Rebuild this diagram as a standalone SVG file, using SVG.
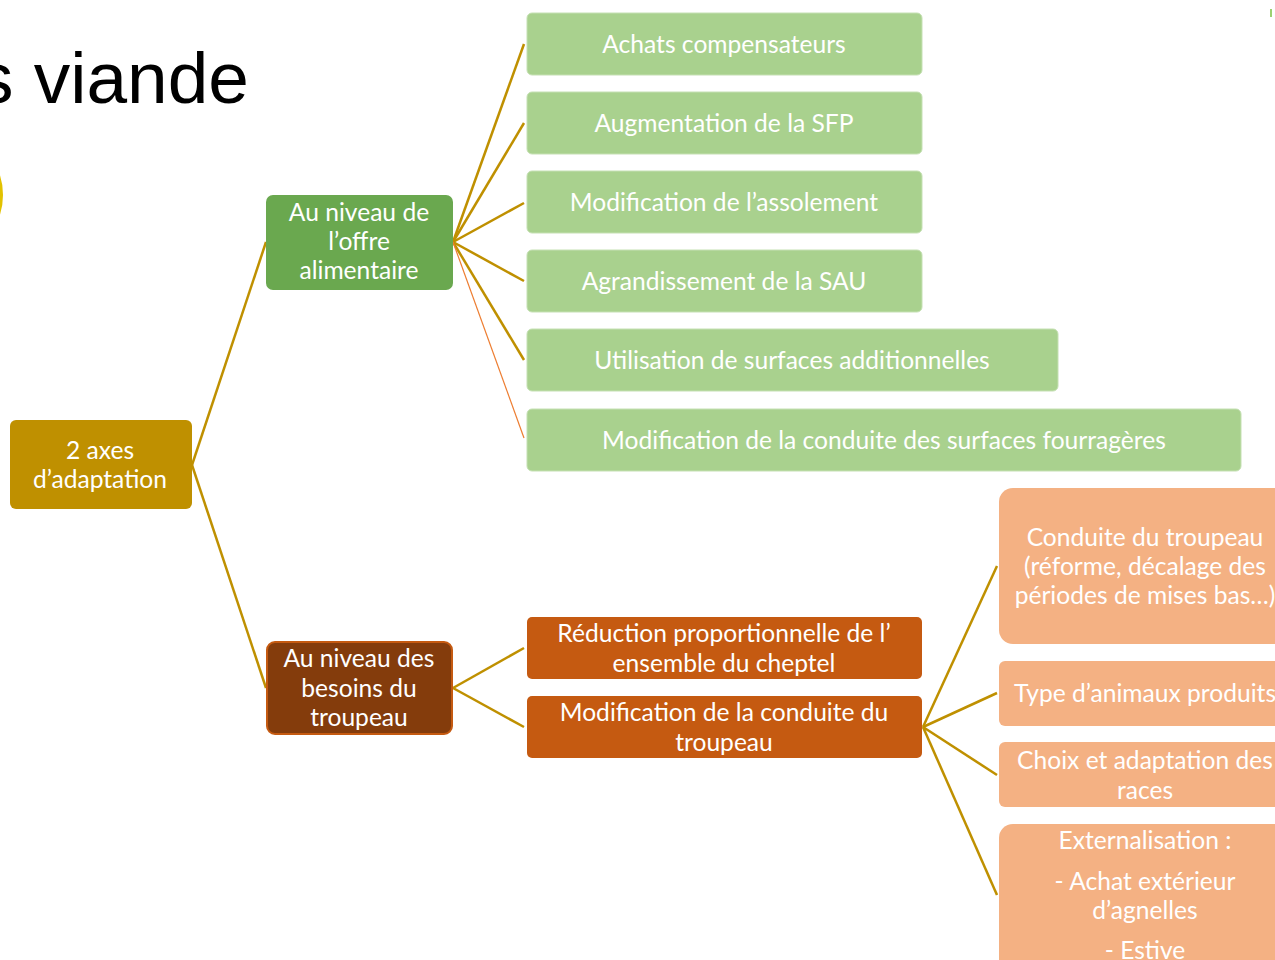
<svg xmlns="http://www.w3.org/2000/svg" width="1275" height="960" viewBox="0 0 1275 960">
<style>
.t{font-family:Lato,"Open Sans","Liberation Sans",sans-serif;font-size:24.6px;fill:#ffffff;text-anchor:middle;dominant-baseline:central}
.c{stroke:#bf9000;stroke-width:2.5;fill:none}
.g{fill:#a9d18e;stroke:#c5e0b3;stroke-width:1}
.o{fill:#f4b183}
.r{fill:#c55a11}
</style>
<rect width="1275" height="960" fill="#ffffff"/>
<text x="-23" y="103" font-family="Liberation Sans,Arial,sans-serif" font-size="73" fill="#000000">s viande</text>
<circle cx="-60" cy="195" r="61" fill="none" stroke="#e2c200" stroke-width="4"/>
<line x1="1271" y1="9" x2="1271" y2="17" stroke="#7dc242" stroke-width="1.5"/>
<g id="connectors">
<line class="c" x1="192" y1="465" x2="266" y2="242"/>
<line class="c" x1="192" y1="465" x2="266" y2="688"/>
<line class="c" x1="453" y1="242" x2="524" y2="44"/>
<line class="c" x1="453" y1="242" x2="524" y2="123"/>
<line class="c" x1="453" y1="242" x2="524" y2="203"/>
<line class="c" x1="453" y1="242" x2="524" y2="281"/>
<line class="c" x1="453" y1="242" x2="524" y2="360"/>
<line x1="453" y1="242" x2="524" y2="438" stroke="#ed7d31" stroke-width="1.2"/>
<line class="c" x1="453" y1="688" x2="524" y2="648"/>
<line class="c" x1="453" y1="688" x2="524" y2="727"/>
<line class="c" x1="923" y1="727" x2="997" y2="566"/>
<line class="c" x1="923" y1="727" x2="997" y2="693"/>
<line class="c" x1="923" y1="727" x2="997" y2="775"/>
<line class="c" x1="923" y1="727" x2="997" y2="895"/>
</g>
<g id="root"><rect x="10" y="420" width="182" height="89" rx="6" fill="#bf9000"/><text class="t" x="100" y="449">2 axes</text><text class="t" x="100" y="478">d’adaptation</text></g>
<g id="offre"><rect x="266" y="195" width="187" height="95" rx="7" fill="#6aa84f"/><text class="t" x="359" y="211">Au niveau de</text><text class="t" x="359" y="240">l’offre</text><text class="t" x="359" y="269">alimentaire</text></g>
<g id="g1"><rect class="g" x="527" y="13" width="395" height="62" rx="5"/><text class="t" x="724" y="43">Achats compensateurs</text></g>
<g id="g2"><rect class="g" x="527" y="92" width="395" height="62" rx="5"/><text class="t" x="724" y="122">Augmentation de la SFP</text></g>
<g id="g3"><rect class="g" x="527" y="171" width="395" height="62" rx="5"/><text class="t" x="724" y="201">Modification de l’assolement</text></g>
<g id="g4"><rect class="g" x="527" y="250" width="395" height="62" rx="5"/><text class="t" x="724" y="280">Agrandissement de la SAU</text></g>
<g id="g5"><rect class="g" x="527" y="329" width="531" height="62" rx="5"/><text class="t" x="792" y="359">Utilisation de surfaces additionnelles</text></g>
<g id="g6"><rect class="g" x="527" y="409" width="714" height="62" rx="5"/><text class="t" x="884" y="439">Modification de la conduite des surfaces fourragères</text></g>
<g id="besoins"><rect x="267" y="642" width="185" height="92" rx="8" fill="#843c0c" stroke="#c55a11" stroke-width="2"/><text class="t" x="359" y="657">Au niveau des</text><text class="t" x="359" y="687">besoins du</text><text class="t" x="359" y="716">troupeau</text></g>
<g id="r1"><rect class="r" x="527" y="617" width="395" height="62" rx="5"/><text class="t" x="724" y="632">Réduction proportionnelle de l’</text><text class="t" x="724" y="662">ensemble du cheptel</text></g>
<g id="r2"><rect class="r" x="527" y="696" width="395" height="62" rx="5"/><text class="t" x="724" y="711">Modification de la conduite du</text><text class="t" x="724" y="741">troupeau</text></g>
<g id="o1"><rect class="o" x="999" y="488" width="300" height="156" rx="14"/><text class="t" x="1145" y="536">Conduite du troupeau</text><text class="t" x="1145" y="565">(réforme, décalage des</text><text class="t" x="1145" y="594">périodes de mises bas…)</text></g>
<g id="o2"><rect class="o" x="999" y="661" width="300" height="65" rx="6"/><text class="t" x="1145" y="692">Type d’animaux produits</text></g>
<g id="o3"><rect class="o" x="999" y="742" width="300" height="65" rx="6"/><text class="t" x="1145" y="759">Choix et adaptation des</text><text class="t" x="1145" y="789">races</text></g>
<g id="o4"><rect class="o" x="999" y="824" width="300" height="160" rx="14"/><text class="t" x="1145" y="839">Externalisation :</text><text class="t" x="1145" y="880">- Achat extérieur</text><text class="t" x="1145" y="909">d’agnelles</text><text class="t" x="1145" y="949">- Estive</text></g>
</svg>
